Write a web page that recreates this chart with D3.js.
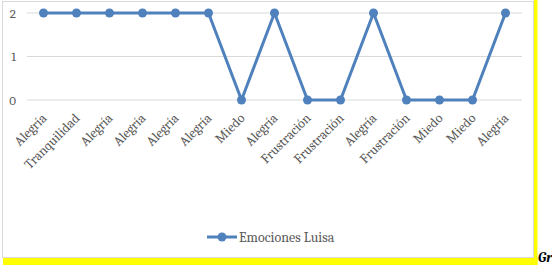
<!DOCTYPE html>
<html>
<head>
<meta charset="utf-8">
<script src="https://cdn.jsdelivr.net/npm/d3@7"></script>
<style>
  body { margin: 0; background: #fff; }
  svg text { font-family: Cambria, "Liberation Serif", serif; }
</style>
</head>
<body>
<div id="holder"></div>
<script>
// data
var categories = ["Alegría", "Tranquilidad", "Alegría", "Alegría", "Alegría", "Alegría", "Miedo", "Alegría",
                  "Frustración", "Frustración", "Alegría", "Frustración", "Miedo", "Miedo", "Alegría"];
var values = [2, 2, 2, 2, 2, 2, 0, 2, 0, 0, 2, 0, 0, 0, 2];
var yTicks = [0, 1, 2];
var seriesName = "Emociones Luisa";

var W = 552, H = 267;
var color = "#4f81bd";

var svg = d3.select("#holder").append("svg")
    .attr("width", W)
    .attr("height", H);

// yellow frame bits
svg.append("rect").attr("x", 534).attr("y", 0).attr("width", 3.5).attr("height", 265).attr("fill", "#ffff00");
svg.append("rect").attr("x", 3).attr("y", 258).attr("width", 534.5).attr("height", 7).attr("fill", "#ffff00");

// chart border
svg.append("rect")
    .attr("x", 2.5).attr("y", 1.5)
    .attr("width", 531).attr("height", 256)
    .attr("fill", "#fff")
    .attr("stroke", "#d9d9d9");

// scales
var x = d3.scaleBand()
    .domain(d3.range(categories.length))
    .range([27, 522]);

var y = d3.scaleLinear()
    .domain([0, 2])
    .range([100, 13]);

// gridlines
svg.append("g")
    .selectAll("line")
    .data(yTicks)
    .enter()
    .append("line")
    .attr("x1", 27).attr("x2", 522)
    .attr("y1", d => y(d)).attr("y2", d => y(d))
    .attr("stroke", "#d9d9d9")
    .attr("stroke-width", 1);

// y axis labels
svg.append("g")
    .selectAll("text")
    .data(yTicks)
    .enter()
    .append("text")
    .attr("x", 16)
    .attr("y", d => y(d))
    .attr("dy", "0.35em")
    .attr("text-anchor", "end")
    .attr("fill", "#595959")
    .style("font-size", "13px")
    .text(d => d);

// x labels, rotated
svg.append("g")
    .selectAll("text")
    .data(categories)
    .enter()
    .append("text")
    .attr("transform", (d, i) => "translate(" + (x(i) + x.bandwidth() / 2 + 4) + ",119) rotate(-45)")
    .attr("text-anchor", "end")
    .attr("fill", "#595959")
    .style("font-size", "13.5px")
    .text(d => d);

// line
var line = d3.line()
    .x((d, i) => x(i) + x.bandwidth() / 2)
    .y(d => y(d));

svg.append("path")
    .datum(values)
    .attr("d", line)
    .attr("fill", "none")
    .attr("stroke", color)
    .attr("stroke-width", 3)
    .attr("stroke-linejoin", "round");

svg.append("g")
    .selectAll("circle")
    .data(values)
    .enter()
    .append("circle")
    .attr("cx", (d, i) => x(i) + x.bandwidth() / 2)
    .attr("cy", d => y(d))
    .attr("r", 4.5)
    .attr("fill", color);

// legend
var legend = svg.append("g").attr("transform", "translate(207,237)");
legend.append("line")
    .attr("x1", 0).attr("x2", 30)
    .attr("stroke", color).attr("stroke-width", 3);
legend.append("circle")
    .attr("cx", 15).attr("r", 4.5).attr("fill", color);
legend.append("text")
    .attr("x", 32).attr("dy", "0.35em")
    .attr("fill", "#595959")
    .style("font-size", "14px")
    .text(seriesName);

// caption cut off at the right edge, as in the picture
svg.append("text")
    .attr("x", 538).attr("y", 262)
    .style("font-weight", "bold")
    .style("font-style", "italic")
    .style("font-size", "14px")
    .attr("fill", "#000")
    .text("Gr");
</script>
</body>
</html>
